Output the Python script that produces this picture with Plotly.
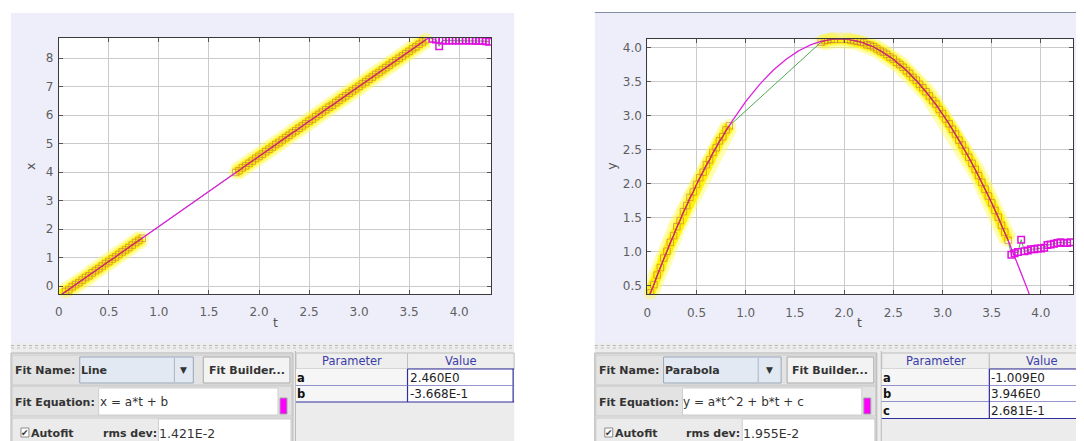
import numpy as np
import plotly.graph_objects as go

# The page body has an 8px margin, so the figure is sized to fill the rest of the window
OFF = 8
PAGE_W, PAGE_H = 1084, 441
W, H = PAGE_W - OFF, PAGE_H - OFF

# ---------------- data ----------------
# frame times (s): tracked segment 1, tracked segment 2, untracked tail
t_early = [0.000, 0.033, 0.067, 0.100, 0.133, 0.167, 0.200, 0.233, 0.267, 0.300,
           0.333, 0.367, 0.400, 0.433, 0.467, 0.500, 0.533, 0.567, 0.600, 0.633,
           0.667, 0.700, 0.733, 0.767, 0.800, 0.833]
t_late = [1.767, 1.800, 1.833, 1.867, 1.900, 1.933, 1.967, 2.000, 2.033, 2.067,
          2.100, 2.133, 2.167, 2.200, 2.233, 2.267, 2.300, 2.333, 2.367, 2.400,
          2.433, 2.467, 2.500, 2.533, 2.567, 2.600, 2.633, 2.667, 2.700, 2.733,
          2.767, 2.800, 2.833, 2.867, 2.900, 2.933, 2.967, 3.000, 3.033, 3.067,
          3.100, 3.133, 3.167, 3.200, 3.233, 3.267, 3.300, 3.333, 3.367, 3.400,
          3.433, 3.467, 3.500, 3.533, 3.567, 3.600, 3.633, 3.667]
t_tail = [3.700, 3.733, 3.767, 3.800, 3.833, 3.867, 3.900, 3.933, 3.967, 4.000,
          4.033, 4.067, 4.100, 4.133, 4.167, 4.200, 4.233, 4.267, 4.300]

x_early = [-0.35, -0.29, -0.19, -0.13, -0.03, 0.05, 0.12, 0.21, 0.30, 0.36,
           0.46, 0.54, 0.61, 0.70, 0.79, 0.86, 0.95, 1.02, 1.11, 1.20,
           1.27, 1.35, 1.44, 1.53, 1.60, 1.68]
x_late = [3.99, 4.05, 4.15, 4.22, 4.31, 4.39, 4.48, 4.55, 4.63, 4.72,
          4.80, 4.88, 4.97, 5.04, 5.13, 5.21, 5.29, 5.38, 5.45, 5.54,
          5.62, 5.70, 5.79, 5.86, 5.95, 6.03, 6.11, 6.19, 6.28, 6.35,
          6.44, 6.52, 6.61, 6.68, 6.77, 6.85, 6.93, 7.01, 7.10, 7.17,
          7.26, 7.34, 7.43, 7.50, 7.59, 7.67, 7.75, 7.84, 7.91, 8.00,
          8.08, 8.16, 8.24, 8.33, 8.40, 8.49, 8.57, 8.65]
x_tail = [8.72, 8.68, 8.66, 8.42, 8.62, 8.62, 8.62, 8.62, 8.62, 8.62,
          8.62, 8.62, 8.62, 8.62, 8.61, 8.61, 8.61, 8.60, 8.58]

y_early = [0.30, 0.40, 0.52, 0.66, 0.77, 0.91, 1.01, 1.14, 1.24, 1.37,
           1.46, 1.59, 1.68, 1.80, 1.88, 1.99, 2.09, 2.17, 2.28, 2.35,
           2.46, 2.53, 2.63, 2.69, 2.79, 2.85]
y_late = [4.08, 4.10, 4.11, 4.12, 4.12, 4.13, 4.12, 4.13, 4.12, 4.11,
          4.10, 4.09, 4.08, 4.07, 4.04, 4.03, 4.01, 3.98, 3.95, 3.93,
          3.90, 3.86, 3.83, 3.78, 3.75, 3.71, 3.66, 3.62, 3.56, 3.52,
          3.46, 3.41, 3.35, 3.29, 3.22, 3.17, 3.09, 3.03, 2.95, 2.88,
          2.80, 2.73, 2.64, 2.57, 2.48, 2.39, 2.30, 2.21, 2.12, 2.02,
          1.92, 1.82, 1.72, 1.61, 1.51, 1.39, 1.29, 1.17]
y_tail = [0.96, 0.98, 1.00, 1.18, 1.01, 1.02, 1.04, 1.04, 1.05, 1.05,
          1.06, 1.10, 1.11, 1.12, 1.13, 1.14, 1.13, 1.13, 1.14]

# fit parameters shown in the tables
line_params = ["a", "b"]
line_values = [2.460, -0.3668]
line_texts = ["2.460E0", "-3.668E-1"]
parab_params = ["a", "b", "c"]
parab_values = [-1.009, 3.946, 0.2681]
parab_texts = ["-1.009E0", "3.946E0", "2.681E-1"]

# ticks
t_ticks = [0, 0.5, 1.0, 1.5, 2.0, 2.5, 3.0, 3.5, 4.0]
t_tick_text = ["0", "0.5", "1.0", "1.5", "2.0", "2.5", "3.0", "3.5", "4.0"]
x_ticks = [0, 1, 2, 3, 4, 5, 6, 7, 8]
x_tick_text = ["0", "1", "2", "3", "4", "5", "6", "7", "8"]
y_ticks = [0.5, 1.0, 1.5, 2.0, 2.5, 3.0, 3.5, 4.0]
y_tick_text = ["0.5", "1.0", "1.5", "2.0", "2.5", "3.0", "3.5", "4.0"]


def fx(x):  # page pixel -> paper x
    return (x - OFF) / W


def fy(y):  # page pixel -> paper y
    return 1 - (y - OFF) / H


# ---------------- figure ----------------
fig = go.Figure()
t_fit = np.linspace(0, 4.4, 400)
x_fit = line_values[0] * t_fit + line_values[1]
y_fit = parab_values[0] * t_fit ** 2 + parab_values[1] * t_fit + parab_values[2]


def add_panel(xr, yr, v_early, v_late, v_tail, fit_v):
    sel_t = t_early + [None] + t_late
    sel_v = v_early + [None] + v_late
    all_t = t_early + t_late + t_tail
    all_v = v_early + v_late + v_tail
    common = dict(xaxis=xr, yaxis=yr, hoverinfo="skip", showlegend=False)
    fig.add_trace(go.Scatter(x=sel_t, y=sel_v, mode="lines", connectgaps=False,
                             line=dict(color="rgba(255,250,80,0.45)", width=18), **common))
    fig.add_trace(go.Scatter(x=t_early + t_late, y=v_early + v_late, mode="markers",
                             cliponaxis=False,
                             marker=dict(size=14, color="rgba(255,245,40,0.35)", line=dict(width=0)),
                             **common))
    fig.add_trace(go.Scatter(x=sel_t, y=sel_v, mode="lines", connectgaps=False,
                             line=dict(color="rgba(255,242,0,0.92)", width=10), **common))
    fig.add_trace(go.Scatter(x=all_t, y=all_v, mode="lines",
                             line=dict(color="#4FAA50", width=1), **common))
    fig.add_trace(go.Scatter(x=t_early + t_late, y=v_early + v_late, mode="markers",
                             marker=dict(symbol="square-open", size=6.5, color="rgba(196,116,70,0.6)",
                                         line=dict(width=1)), **common))
    fig.add_trace(go.Scatter(x=t_fit, y=fit_v, mode="lines",
                             line=dict(color="#E020E0", width=1.3), **common))
    fig.add_trace(go.Scatter(x=sel_t, y=sel_v, mode="lines", connectgaps=False,
                             line=dict(color="#C8383A", width=1.1), **common))
    fig.add_trace(go.Scatter(x=t_tail, y=v_tail, mode="markers",
                             marker=dict(symbol="square-open", size=6.5, color="#E010E0",
                                         line=dict(width=1.5)), **common))


add_panel("x", "y", x_early, x_late, x_tail, x_fit)
add_panel("x2", "y2", y_early, y_late, y_tail, y_fit)

TICKFONT = dict(family="DejaVu Sans", size=12, color="#5E5E5E")
axis_common = dict(showgrid=True, gridcolor="#CACACA", gridwidth=1, zeroline=False,
                   showline=True, linecolor="#3A3A3A", linewidth=1, mirror="ticks",
                   ticks="inside", ticklen=4, tickcolor="#555555", tickfont=TICKFONT)

fig.update_layout(
    width=W, height=H, autosize=False,
    margin=dict(l=0, r=0, t=0, b=0),
    paper_bgcolor="white", plot_bgcolor="white", showlegend=False,
    xaxis=dict(domain=[fx(55), fx(489)], range=[0, 4.32], tickvals=t_ticks,
               ticktext=t_tick_text, anchor="y", ticklabelstandoff=7, **axis_common),
    yaxis=dict(domain=[fy(294), fy(38)], range=[-0.28, 8.71], tickvals=x_ticks,
               ticktext=x_tick_text, anchor="x", ticklabelstandoff=2, **axis_common),
    xaxis2=dict(domain=[fx(645.7), fx(1073.3)], range=[0, 4.33], tickvals=t_ticks,
                ticktext=t_tick_text, anchor="y2", ticklabelstandoff=7, **axis_common),
    yaxis2=dict(domain=[fy(294.3), fy(39.3)], range=[0.378, 4.12], tickvals=y_ticks,
                ticktext=y_tick_text, anchor="x2", ticklabelstandoff=2, **axis_common),
)

# ---------------- decorations (screenshot chrome) ----------------
shapes, annotations = [], []
UI_FONT = "DejaVu Sans"


def R(x0, y0, x1, y1, fill, line=None, lw=1, layer="above"):
    shapes.append(dict(type="rect", xref="paper", yref="paper", x0=fx(x0), x1=fx(x1),
                       y0=fy(y1), y1=fy(y0), fillcolor=fill, layer=layer,
                       line=dict(color=line if line else "rgba(0,0,0,0)", width=lw if line else 0)))


def L(x0, y0, x1, y1, color, width=1, dash=None, layer="above"):
    shapes.append(dict(type="line", xref="paper", yref="paper", x0=fx(x0), x1=fx(x1),
                       y0=fy(y0), y1=fy(y1), layer=layer,
                       line=dict(color=color, width=width, dash=dash)))


def T(x, y, s, size=11, color="#333333", anchor="left", bold=False, angle=0, family=UI_FONT):
    if anchor == "left":
        x -= 3  # compensate the annotation's inner padding
    annotations.append(dict(xref="paper", yref="paper", x=fx(x), y=fy(y),
                            text=f"<b>{s}</b>" if bold else s, showarrow=False,
                            xanchor=anchor, yanchor="middle", textangle=angle,
                            borderpad=0, font=dict(size=size, color=color, family=family)))


LAV = "#EEEEFA"
# plot panels background
R(7, 13, 512, 343, LAV, layer="below")
R(55, 38, 489, 294, "white", layer="below")
R(593, 12, 1084, 343, LAV, layer="below")
R(645.7, 39.3, 1073.3, 294.3, "white", layer="below")
L(593, 12.5, 1084, 12.5, "#8090A2", 1.2)

# axis titles
T(272, 322, "t", size=12.5, color="#555555", anchor="center")
T(27, 166, "x", size=12.5, color="#555555", anchor="center", angle=-90)
T(859, 322, "t", size=12.5, color="#555555", anchor="center")
T(610, 166, "y", size=12.5, color="#555555", anchor="center", angle=-90)


def draw_ui(ox, ox_end, fit_name, combo_end, equation, rms, tx, tdiv, tend, params, vtexts):
    R(ox, 343, ox_end, 445, "#EDEDED")
    L(ox, 345.5, ox_end, 345.5, "#B4B4B4", 1, "dot")
    L(ox, 348, ox_end, 348, "#C0C0C0", 1, "dot")
    # control panel
    R(ox, 353, ox + 283, 445, "#E9E9E9", "#B2B2B2")
    R(ox + 1, 355, ox + 282, 385, "#E3E3E3", "#C8C8C8")
    T(ox + 6, 370, "Fit Name:", size=11, bold=True)
    R(ox + 69, 357, combo_end, 383, "#E2E9F2", "#99A7B9")
    L(ox + 164, 358, ox + 164, 382, "#A9B5C5")
    T((ox + 164 + combo_end) / 2, 370, "▼", size=9, anchor="center", color="#333333")
    T(ox + 72, 370, fit_name, size=11, bold=True)
    R(ox + 193, 357, ox + 280, 383, "#F3F3F3", "#A9A9A9")
    T(ox + 236.5, 370, "Fit Builder...", size=11, bold=True, anchor="center")
    R(ox + 1, 386, ox + 282, 416, "#E3E3E3", "#C8C8C8")
    T(ox + 6, 402, "Fit Equation:", size=11, bold=True)
    R(ox + 88, 388, ox + 268, 415, "white", "#CFCFCF")
    T(ox + 91, 402, equation, size=12)
    R(ox + 270, 398, ox + 277, 414, "#FF00FF", "#A0A0A0")
    R(ox + 1, 418, ox + 282, 445, "#EBEBEB", "#C8C8C8")
    R(ox + 10, 428, ox + 18, 437, "white", "#8A8A8A")
    T(ox + 14, 432.5, "✔", size=9, anchor="center", color="#333333")
    T(ox + 22, 433, "Autofit", size=11, bold=True)
    T(ox + 94, 433, "rms dev:", size=11, bold=True)
    R(ox + 148, 419, ox + 281, 445, "white", "#CFCFCF")
    T(ox + 151, 433, rms, size=12.5)
    # parameter table
    R(tx, 351, tend, 445, "#ECECEC")
    L(tx - 0.5, 351, tx - 0.5, 441, "#B8B8B8")
    R(tx, 353, tdiv, 369, "#EEEEEE", "#BEBEBE")
    R(tdiv, 353, tend, 369, "#EEEEEE", "#BEBEBE")
    T((tx + tdiv) / 2, 361, "Parameter", size=11.5, color="#3C3CA8", anchor="center")
    T((tdiv + min(tend, 1095)) / 2, 361, "Value", size=11.5, color="#3C3CA8", anchor="center")
    pitch = 16.5
    for i, (p, v) in enumerate(zip(params, vtexts)):
        y0 = 369 + pitch * i
        R(tx, y0, tdiv, y0 + pitch, "#F6F6F6")
        R(tdiv, y0, tend, y0 + pitch, "white")
        L(tx, y0 + pitch, tend, y0 + pitch, "#2E2E9A", 1.2)
        L(tdiv, y0, tdiv, y0 + pitch, "#2E2E9A", 1.2)
        L(tend - 1, y0, tend - 1, y0 + pitch, "#2E2E9A", 1.2)
        T(tx + 3, y0 + pitch / 2 + 0.5, p, size=11.5, bold=True, color="#111111")
        T(tdiv + 4, y0 + pitch / 2 + 0.5, v, size=12, color="#222222")
    L(tdiv, 369, tend, 369, "#2E2E9A", 1.2)


draw_ui(7, 512, "Line", 190, "x = a*t + b", "1.421E-2", 293, 405, 512,
        line_params, line_texts)
draw_ui(593, 1084, "Parabola", 780, "y = a*t^2 + b*t + c", "1.955E-2", 881, 989, 1095,
        parab_params, parab_texts)

fig.update_layout(shapes=shapes, annotations=annotations)
fig.write_html("out.html")
